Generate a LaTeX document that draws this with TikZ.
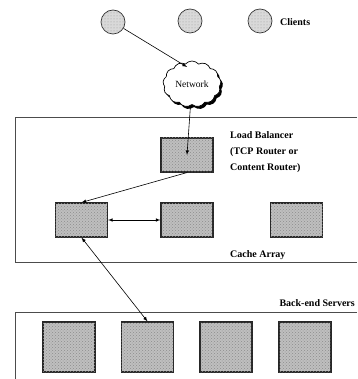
\documentclass[tikz,border=0pt]{standalone}
\usepackage{fontspec}
\setmainfont{Liberation Serif}
\usetikzlibrary{shapes.symbols,shadows,patterns}
\begin{document}
\begin{tikzpicture}[x=1pt, y=-1pt]
    % Node styles
    \tikzstyle{box} = [draw=black!85, line width=1.1pt, fill=black!25, postaction={pattern=crosshatch dots, pattern color=black!45}, minimum width=52pt, minimum height=34pt, inner sep=0pt]
    \tikzstyle{client} = [circle, draw=black!80, line width=0.7pt, fill=black!15, postaction={pattern=dots, pattern color=black!40}, minimum size=24pt, inner sep=0pt]
    \tikzstyle{lbl} = [font=\fontsize{10}{16}\selectfont\bfseries, inner sep=0pt, align=left]
    \tikzstyle{frame} = [draw=black!70, line width=0.7pt]
    \tikzstyle{link} = [line width=0.6pt, -latex]

    \useasboundingbox (0,0) rectangle (357,379);

    % Frames
    \draw[frame] (357,117) -- (15,117) -- (15,262) -- (357,262);
    \draw[frame] (357,312) -- (15,312) -- (15,379);

    % Nodes
    % clients
    \node[client] (cl1) at (113,22) {};
    \node[client] (cl2) at (190,21) {};
    \node[client] (cl3) at (260,21) {};
    \node[lbl, anchor=west] (tclients) at (280,22) {Clients};

    % network
    \node[cloud, cloud puffs=13, cloud puff arc=100, aspect=1.2, draw=black, line width=0.7pt, fill=white, minimum width=58pt, minimum height=46pt, inner sep=0pt, drop shadow={fill=black, opacity=1, shadow xshift=2pt, shadow yshift=-2.5pt}, font=\fontsize{9.5}{11}\selectfont] (net) at (192,84) {Network};
    \coordinate (netin) at (187,67);

    % load balancer
    \node[box] (lb) at (187,155) {};
    \node[lbl, anchor=north west] (tlb) at (230,131) {Load Balancer\\(TCP Router or\\Content Router)};

    % cache array
    \node[box] (c1) at (81.5,220) {};
    \node[box] (c2) at (187,220) {};
    \node[box] (c3) at (296.5,220) {};
    \node[lbl, anchor=west] (tcache) at (230,255) {Cache Array};

    % back-end servers
    \node[box, minimum height=50pt] (s1) at (69,347) {};
    \node[box, minimum height=50pt] (s2) at (147.5,347) {};
    \node[box, minimum height=50pt] (s3) at (226,347) {};
    \node[box, minimum height=50pt] (s4) at (305,347) {};
    \node[lbl, anchor=east] (tback) at (355,303) {Back-end Servers};

    % Edges
    \draw[link] (cl1) -- (netin);
    \draw[link] (net) -- (lb.center);
    \draw[link] (lb.south) -- (c1.north);
    \draw[link, latex-latex] (c1.east) -- (c2.west);
    \draw[link, latex-latex] (c1.south) -- (s2.north);

\end{tikzpicture}
\end{document}
